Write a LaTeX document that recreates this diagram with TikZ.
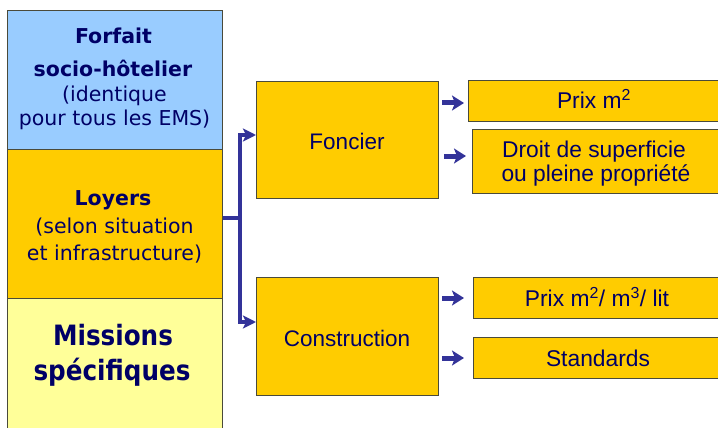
\documentclass[tikz,border=0pt]{standalone}
\usepackage{fontspec}
\setmainfont{Liberation Sans}
\newfontfamily\dvs{DejaVu Sans}
\newfontfamily\dvsc[FakeStretch=0.88]{DejaVu Sans}
\usetikzlibrary{arrows.meta}
\definecolor{sky}{HTML}{99CCFF}
\definecolor{gold}{HTML}{FFCC00}
\definecolor{pale}{HTML}{FFFF99}
\definecolor{navy}{HTML}{000066}
\definecolor{arr}{HTML}{333399}
\definecolor{edge}{HTML}{4A4A3A}
\tikzset{
  box/.style={draw=edge, line width=1.2pt, inner sep=0pt, anchor=north west, fill=gold},
  lbl/.style={anchor=base, inner sep=0pt, text=navy},
  lbold/.style={lbl, font=\dvs\bfseries\fontsize{20.5}{24}\selectfont},
  lreg/.style={lbl, font=\dvs\fontsize{20.5}{24}\selectfont},
  lbig/.style={lbl, font=\dvsc\bfseries\fontsize{28}{32}\selectfont},
  mid/.style={lbl, font=\fontsize{22.5}{26}\selectfont},
  rtx/.style={lbl, font=\fontsize{22.8}{26}\selectfont},
  conn/.style={draw=arr, line width=4pt},
  connarrow/.style={conn, -{Stealth[length=13pt,width=13pt,inset=3pt]}},
  fat/.style={draw=arr, line width=5pt, -{Stealth[length=12pt,width=15pt,inset=3pt]}}
}
\begin{document}
\begin{tikzpicture}[x=1pt,y=-1pt]
\useasboundingbox (0,0) rectangle (718,428);
% left column
\node[box, fill=sky, minimum width=215pt, minimum height=139pt] (forfait) at (7,10) {};
\node[box, minimum width=215pt, minimum height=149pt] (loyers) at (7,149) {};
\node[box, fill=pale, minimum width=215pt, minimum height=140pt] (missions) at (7,298) {};
% middle
\node[box, minimum width=182pt, minimum height=117pt] (foncier) at (256,81) {};
\node[box, minimum width=182pt, minimum height=118pt] (constr) at (256,277) {};
% right
\node[box, minimum width=260pt, minimum height=41pt] (prix) at (468,80) {};
\node[box, minimum width=256pt, minimum height=64pt] (droit) at (472,129) {};
\node[box, minimum width=255pt, minimum height=41pt] (prixb) at (473,277) {};
\node[box, minimum width=255pt, minimum height=41pt] (std) at (473,337) {};
% texts left
\node[lbold] (t1) at (113.5,44) {Forfait};
\node[lbold] (t2) at (113,77) {socio-hôtelier};
\node[lreg] (t3) at (114.5,102) {(identique};
\node[lreg] (t4) at (114.5,125) {pour tous les EMS)};
\node[lbold] (t5) at (113,205) {Loyers};
\node[lreg] (t6) at (114.5,233) {(selon situation};
\node[lreg] (t7) at (114.5,260) {et infrastructure)};
\node[lbig] (t8) at (113,345) {Missions};
\node[lbig] (t9) at (112,380) {spécifiques};
% texts middle
\node[mid] (t10) at (347,149) {Foncier};
\node[mid] (t11) at (347,346) {Construction};
% texts right
\node[rtx] (t12) at (594,108) {Prix m\textsuperscript{2}};
\node[rtx] (t13) at (594,157) {Droit de superficie};
\node[rtx] (t14) at (596,181) {ou pleine propriété};
\node[rtx] (t15) at (597,306) {Prix m\textsuperscript{2}/ m\textsuperscript{3}/ lit};
\node[rtx] (t16) at (598,366) {Standards};
% main connector
\coordinate (j) at (240,218);
\coordinate (ctop) at (240,135);
\coordinate (cbot) at (240,322);
\draw[conn] (loyers.east |- j) -- (j);
\draw[connarrow] (cbot) -- (ctop) -- (foncier.west |- ctop);
\draw[connarrow] (j) -- (cbot) -- (constr.west |- cbot);
% small arrows
\coordinate (s1) at (442,103); \coordinate (e1) at (464,103);
\coordinate (s2) at (444,156); \coordinate (e2) at (466,156);
\coordinate (s3) at (442,298); \coordinate (e3) at (464,298);
\coordinate (s4) at (442,358); \coordinate (e4) at (464,358);
\draw[fat] (s1) -- (e1);
\draw[fat] (s2) -- (e2);
\draw[fat] (s3) -- (e3);
\draw[fat] (s4) -- (e4);
\end{tikzpicture}
\end{document}
